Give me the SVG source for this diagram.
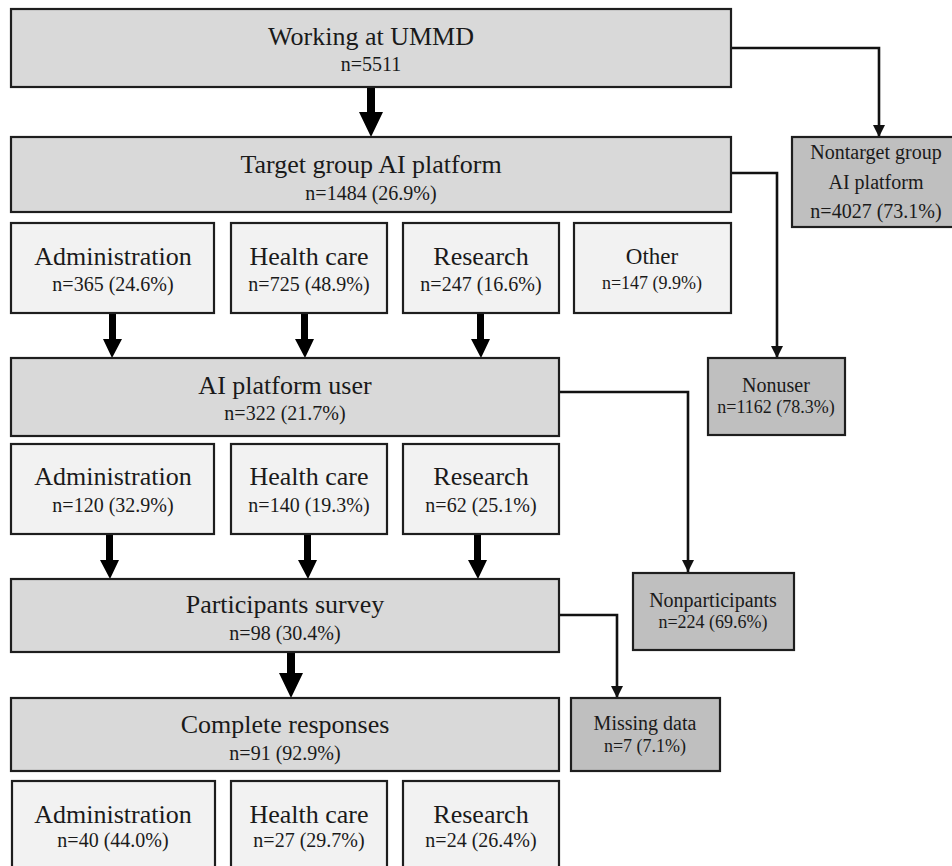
<svg xmlns="http://www.w3.org/2000/svg" width="952" height="866" viewBox="0 0 952 866">
<style>
  .box{stroke:#1e1e1e;stroke-width:2.2}
  .main{fill:#d9d9d9}
  .sub{fill:#f2f2f2}
  .side{fill:#bfbfbf}
  text{font-family:"Liberation Serif","Times New Roman",serif;fill:#1a1a1a;text-anchor:middle}
  .t26{font-size:26px}
  .t20{font-size:20px}
  .t23{font-size:23px}
  .t18{font-size:18px}
  .conn{fill:none;stroke:#111;stroke-width:2.6}
  .big{fill:#000}
</style>
<defs>
  <marker id="ah" markerUnits="userSpaceOnUse" markerWidth="12" markerHeight="12" refX="10" refY="5" orient="auto" viewBox="0 0 10 10">
    <path d="M0,0 L10,5 L0,10 Z" fill="#111"/>
  </marker>
</defs>

<g id="connectors">
  <path class="conn" d="M731,48 H879 V137" marker-end="url(#ah)"/>
  <path class="conn" d="M731,173 H777 V358" marker-end="url(#ah)"/>
  <path class="conn" d="M559,392 H688 V572" marker-end="url(#ah)"/>
  <path class="conn" d="M559,615 H617 V698" marker-end="url(#ah)"/>
  <!-- thick arrows -->
  <polygon class="big" points="367,87 375,87 375,112 383,112 371,137 359,112 367,112"/>
  <polygon class="big" points="109,313 116,313 116,339 122,339 112,358 103,339 109,339"/>
  <polygon class="big" points="301,313 308,313 308,339 314,339 305,358 295,339 301,339"/>
  <polygon class="big" points="477,313 484,313 484,339 490,339 481,358 471,339 477,339"/>
  <polygon class="big" points="106,534 113,534 113,560 119,560 110,579 100,560 106,560"/>
  <polygon class="big" points="304,534 311,534 311,560 317,560 308,579 298,560 304,560"/>
  <polygon class="big" points="474,534 481,534 481,560 487,560 478,579 468,560 474,560"/>
  <polygon class="big" points="287,652 295,652 295,673 303,673 291,698 279,673 287,673"/>
</g>

<g id="working">
  <rect class="box main" x="11" y="9" width="720" height="78"/>
  <text class="t26" x="371" y="45">Working at UMMD</text>
  <text class="t20" x="371" y="71">n=5511</text>
</g>

<g id="nontarget">
  <rect class="box side" x="792" y="137" width="162" height="90"/>
  <text class="t20" x="876" y="159">Nontarget  group</text>
  <text class="t20" x="876" y="189">AI platform</text>
  <text class="t20" x="876" y="218">n=4027 (73.1%)</text>
</g>

<g id="target">
  <rect class="box main" x="11" y="137" width="720" height="75"/>
  <text class="t26" x="371" y="173">Target group AI platform</text>
  <text class="t20" x="371" y="200">n=1484 (26.9%)</text>
</g>

<g id="t-admin">
  <rect class="box sub" x="11" y="223" width="203" height="90"/>
  <text class="t26" x="113" y="265">Administration</text>
  <text class="t20" x="113" y="291">n=365 (24.6%)</text>
</g>
<g id="t-health">
  <rect class="box sub" x="231" y="223" width="156" height="90"/>
  <text class="t26" x="309" y="265">Health care</text>
  <text class="t20" x="309" y="291">n=725 (48.9%)</text>
</g>
<g id="t-research">
  <rect class="box sub" x="403" y="223" width="156" height="90"/>
  <text class="t26" x="481" y="265">Research</text>
  <text class="t20" x="481" y="291">n=247 (16.6%)</text>
</g>
<g id="t-other">
  <rect class="box sub" x="574" y="223" width="157" height="90"/>
  <text class="t23" x="652" y="264">Other</text>
  <text class="t18" x="652" y="289">n=147 (9.9%)</text>
</g>

<g id="user">
  <rect class="box main" x="11" y="358" width="548" height="78"/>
  <text class="t26" x="285" y="394">AI platform user</text>
  <text class="t20" x="285" y="420">n=322 (21.7%)</text>
</g>

<g id="nonuser">
  <rect class="box side" x="708" y="358" width="137" height="77"/>
  <text class="t20" x="776" y="392">Nonuser</text>
  <text class="t18" x="776" y="413">n=1162 (78.3%)</text>
</g>

<g id="u-admin">
  <rect class="box sub" x="11" y="444" width="203" height="90"/>
  <text class="t26" x="113" y="485">Administration</text>
  <text class="t20" x="113" y="512">n=120 (32.9%)</text>
</g>
<g id="u-health">
  <rect class="box sub" x="231" y="444" width="156" height="90"/>
  <text class="t26" x="309" y="485">Health care</text>
  <text class="t20" x="309" y="512">n=140 (19.3%)</text>
</g>
<g id="u-research">
  <rect class="box sub" x="403" y="444" width="156" height="90"/>
  <text class="t26" x="481" y="485">Research</text>
  <text class="t20" x="481" y="512">n=62 (25.1%)</text>
</g>

<g id="participants">
  <rect class="box main" x="11" y="579" width="548" height="73"/>
  <text class="t26" x="285" y="613">Participants survey</text>
  <text class="t20" x="285" y="640">n=98 (30.4%)</text>
</g>

<g id="nonparticipants">
  <rect class="box side" x="633" y="573" width="161" height="77"/>
  <text class="t20" x="713" y="607">Nonparticipants</text>
  <text class="t18" x="713" y="628">n=224 (69.6%)</text>
</g>

<g id="complete">
  <rect class="box main" x="11" y="698" width="548" height="73"/>
  <text class="t26" x="285" y="733">Complete responses</text>
  <text class="t20" x="285" y="760">n=91 (92.9%)</text>
</g>

<g id="missing">
  <rect class="box side" x="571" y="698" width="149" height="73"/>
  <text class="t20" x="645" y="730">Missing data</text>
  <text class="t18" x="645" y="752">n=7 (7.1%)</text>
</g>

<g id="c-admin">
  <rect class="box sub" x="12" y="781" width="203" height="95"/>
  <text class="t26" x="113" y="823">Administration</text>
  <text class="t20" x="113" y="847">n=40 (44.0%)</text>
</g>
<g id="c-health">
  <rect class="box sub" x="231" y="781" width="156" height="95"/>
  <text class="t26" x="309" y="823">Health care</text>
  <text class="t20" x="309" y="847">n=27 (29.7%)</text>
</g>
<g id="c-research">
  <rect class="box sub" x="403" y="781" width="156" height="95"/>
  <text class="t26" x="481" y="823">Research</text>
  <text class="t20" x="481" y="847">n=24 (26.4%)</text>
</g>
</svg>
